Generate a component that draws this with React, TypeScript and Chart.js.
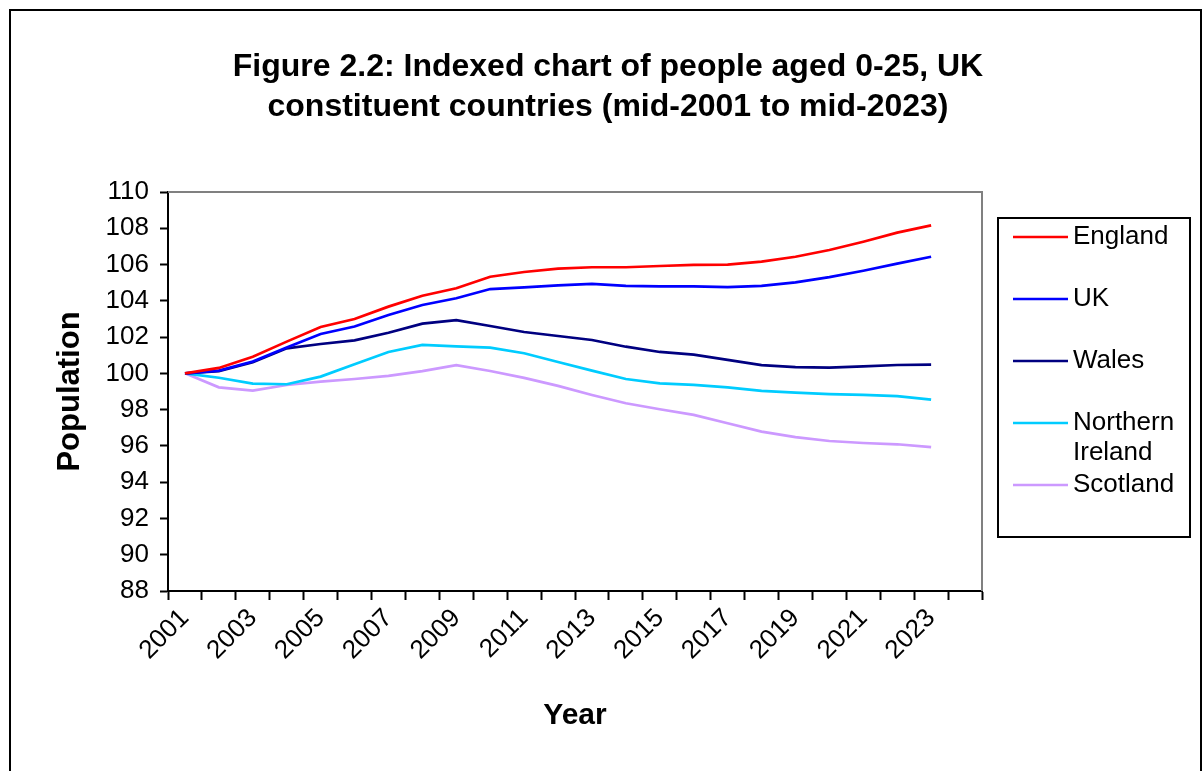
import React, { useEffect, useRef } from "react";
import { Chart, registerables } from "chart.js";

Chart.register(...registerables);

const FONT = '"Liberation Sans", Arial, Helvetica, sans-serif';

const years = [
  "2001", "2002", "2003", "2004", "2005", "2006", "2007", "2008", "2009", "2010", "2011", "2012",
  "2013", "2014", "2015", "2016", "2017", "2018", "2019", "2020", "2021", "2022", "2023", "2024",
];

const england = [100, 100.3, 100.92, 101.75, 102.56, 103.0, 103.68, 104.28, 104.69, 105.33, 105.59, 105.77, 105.85, 105.85, 105.92, 105.98, 106.0, 106.16, 106.43, 106.8, 107.26, 107.76, 108.16];
const uk = [100, 100.15, 100.65, 101.42, 102.17, 102.58, 103.22, 103.77, 104.14, 104.65, 104.74, 104.85, 104.93, 104.82, 104.8, 104.8, 104.76, 104.82, 105.02, 105.31, 105.66, 106.05, 106.43];
const wales = [100, 100.12, 100.61, 101.38, 101.62, 101.82, 102.24, 102.74, 102.93, 102.61, 102.28, 102.06, 101.84, 101.47, 101.18, 101.03, 100.74, 100.45, 100.34, 100.32, 100.39, 100.46, 100.48];
const northernIreland = [100, 99.76, 99.43, 99.4, 99.82, 100.5, 101.18, 101.57, 101.49, 101.42, 101.11, 100.63, 100.15, 99.69, 99.45, 99.36, 99.23, 99.03, 98.94, 98.86, 98.81, 98.74, 98.55];
const scotland = [100, 99.23, 99.05, 99.36, 99.54, 99.69, 99.86, 100.12, 100.45, 100.13, 99.75, 99.31, 98.81, 98.35, 98.02, 97.71, 97.25, 96.79, 96.48, 96.27, 96.16, 96.09, 95.93];

const seriesNames = ["England", "UK", "Wales", "Northern Ireland", "Scotland"];
const seriesColors = ["#FF0000", "#0000FF", "#000080", "#00CCFF", "#CC99FF"];
const seriesValues = [england, uk, wales, northernIreland, scotland];
const legendLines = [["England"], ["UK"], ["Wales"], ["Northern", "Ireland"], ["Scotland"]];

const titleLines = [
  "Figure 2.2: Indexed chart of people aged 0-25, UK",
  "constituent countries (mid-2001 to mid-2023)",
];
const yTitle = "Population";
const xTitle = "Year";
const yMin = 88;
const yMax = 110;
const yStep = 2;

const decorPlugin = {
  id: "decor",
  beforeDraw(chart: any) {
    const ctx = chart.ctx;
    ctx.save();
    ctx.fillStyle = "#ffffff";
    ctx.fillRect(0, 0, chart.width, chart.height);
    ctx.restore();
  },
  beforeDatasetsDraw(chart: any) {
    const ctx = chart.ctx;
    const a = chart.chartArea;
    ctx.save();
    ctx.strokeStyle = "#808080";
    ctx.lineWidth = 2;
    ctx.beginPath();
    ctx.moveTo(a.left, a.top);
    ctx.lineTo(a.right, a.top);
    ctx.lineTo(a.right, a.bottom);
    ctx.stroke();
    ctx.restore();
  },
  afterDraw(chart: any) {
    const ctx = chart.ctx;
    ctx.save();
    // outer chart border
    ctx.strokeStyle = "#000";
    ctx.lineWidth = 2;
    ctx.strokeRect(10, 10, 1191, 800);
    // title
    ctx.fillStyle = "#000";
    ctx.font = `bold 32px ${FONT}`;
    ctx.textAlign = "center";
    ctx.textBaseline = "alphabetic";
    titleLines.forEach((t, i) => ctx.fillText(t, 608, 76 + i * 40));
    // legend
    ctx.lineWidth = 2;
    ctx.strokeStyle = "#000";
    ctx.strokeRect(998, 218, 192, 319);
    ctx.font = `26px ${FONT}`;
    ctx.textAlign = "left";
    ctx.textBaseline = "middle";
    let y = 237;
    legendLines.forEach((lines, i) => {
      ctx.strokeStyle = seriesColors[i];
      ctx.lineWidth = 2.5;
      ctx.beginPath();
      ctx.moveTo(1013, y);
      ctx.lineTo(1068, y);
      ctx.stroke();
      ctx.fillStyle = "#000";
      lines.forEach((ln, j) => ctx.fillText(ln, 1073, y + j * 30));
      y += 62;
    });
    ctx.restore();
  },
};

export default function App() {
  const ref = useRef<HTMLCanvasElement | null>(null);

  useEffect(() => {
    if (!ref.current) return;
    const chart = new Chart(ref.current, {
      type: "line",
      data: {
        labels: years,
        datasets: seriesNames.map((name, i) => ({
          label: name,
          data: seriesValues[i],
          borderColor: seriesColors[i],
          backgroundColor: seriesColors[i],
          borderWidth: 2.7,
          pointRadius: 0,
          tension: 0,
          fill: false,
        })),
      },
      options: {
        animation: false,
        responsive: false,
        devicePixelRatio: 1,
        layout: { padding: { top: 192, right: 221, bottom: 0, left: 0 } },
        plugins: {
          legend: { display: false },
          title: { display: false },
          tooltip: { enabled: false },
        },
        scales: {
          x: {
            type: "category",
            offset: true,
            grid: {
              offset: true,
              drawOnChartArea: false,
              drawTicks: true,
              tickLength: 9,
              tickWidth: 2,
              tickColor: "#000",
            },
            border: { color: "#000", width: 2 },
            ticks: {
              autoSkip: false,
              maxRotation: 45,
              minRotation: 45,
              color: "#000",
              font: { family: FONT, size: 26 },
              padding: 3,
              callback: (_v: any, i: number) => (i % 2 === 0 ? years[i] : ""),
            },
            title: {
              display: true,
              text: xTitle,
              color: "#000",
              font: { family: FONT, size: 30, weight: "bold" },
              padding: { top: 0, bottom: 37 },
            },
            afterFit: (s: any) => {
              s.height = 180;
            },
          },
          y: {
            min: yMin,
            max: yMax,
            grid: {
              drawOnChartArea: false,
              drawTicks: true,
              tickLength: 8,
              tickWidth: 2,
              tickColor: "#000",
            },
            border: { color: "#000", width: 2 },
            ticks: {
              stepSize: yStep,
              color: "#000",
              font: { family: FONT, size: 26 },
              padding: 11,
            },
            title: {
              display: true,
              text: yTitle,
              color: "#000",
              font: { family: FONT, size: 31, weight: "bold" },
              padding: { top: 52, bottom: 0 },
            },
            afterFit: (s: any) => {
              s.width = 168;
            },
          },
        },
      },
      plugins: [decorPlugin],
    } as any);
    return () => chart.destroy();
  }, []);

  return (
    <div style={{ position: "absolute", left: 0, top: 0, width: 1203, height: 771 }}>
      <canvas ref={ref} width={1203} height={771} style={{ display: "block" }} />
    </div>
  );
}
